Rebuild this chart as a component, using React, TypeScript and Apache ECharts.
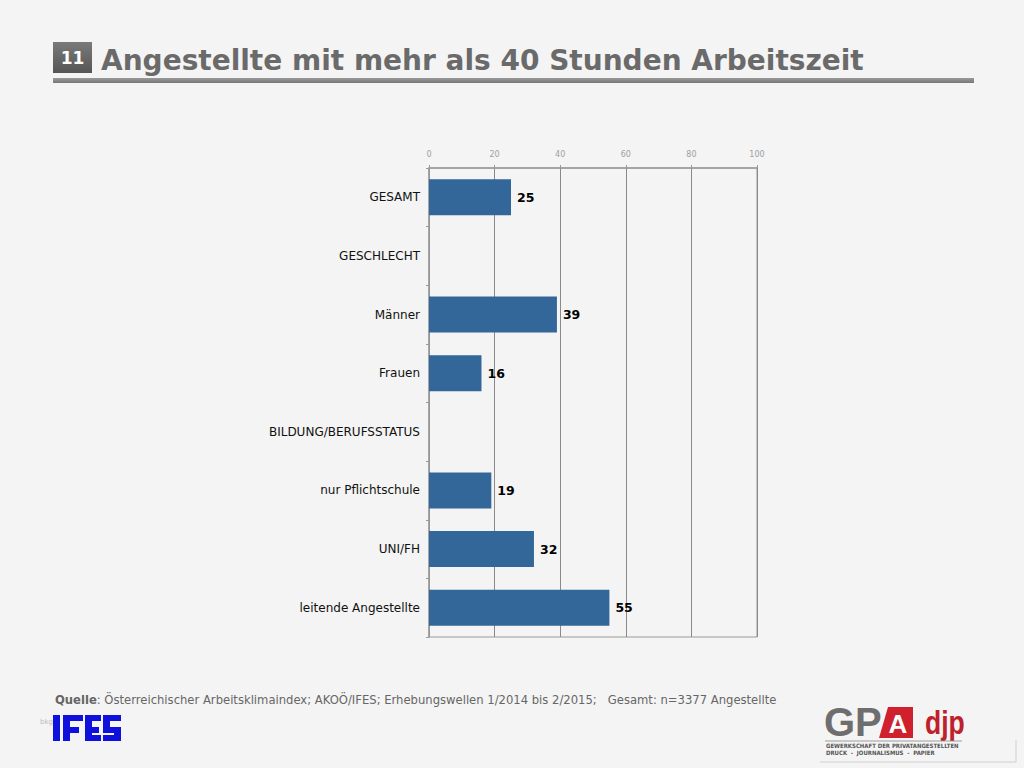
import React, { useEffect, useRef } from "react";
import * as echarts from "echarts";

const categories = [
  "GESAMT",
  "GESCHLECHT",
  "Männer",
  "Frauen",
  "BILDUNG/BERUFSSTATUS",
  "nur Pflichtschule",
  "UNI/FH",
  "leitende Angestellte",
];
const values: (number | null)[] = [25, null, 39, 16, null, 19, 32, 55];
const xTicks = [0, 20, 40, 60, 80, 100];

const titleText = "Angestellte mit mehr als 40 Stunden Arbeitszeit";
const slideNo = "11";
const sourceLabel = "Quelle";
const sourceText =
  ": Österreichischer Arbeitsklimaindex; AKOÖ/IFES; Erhebungswellen 1/2014 bis 2/2015;   Gesamt: n=3377 Angestellte";

const ifesBlocks: number[][] = [
  // I
  [53, 715, 7, 26],
  // F
  [63, 715, 7, 26],
  [63, 715, 20, 6],
  [63, 727, 16, 6],
  // E
  [85, 715, 7, 26],
  [85, 715, 16, 6],
  [85, 727, 14, 6],
  [85, 735, 16, 6],
  // S
  [103, 715, 18, 6],
  [103, 715, 7, 16],
  [103, 727, 18, 6],
  [114, 727, 7, 14],
  [103, 735, 18, 6],
];

export default function App() {
  const ref = useRef<HTMLDivElement>(null);
  useEffect(() => {
    if (!ref.current) return;
    const chart = echarts.init(ref.current, undefined, { renderer: "svg" });
    const font = "'DejaVu Sans', Verdana, sans-serif";
    chart.setOption({
      animation: false,
      backgroundColor: "#f4f4f4",
      textStyle: { fontFamily: font },
      grid: {
        left: 429,
        right: 267,
        top: 168,
        height: 469,
        show: true,
        borderColor: "#9a9a9a",
        borderWidth: 1,
        backgroundColor: "transparent",
      },
      xAxis: {
        type: "value",
        position: "top",
        min: xTicks[0],
        max: xTicks[xTicks.length - 1],
        interval: 20,
        axisLine: { show: true, lineStyle: { color: "#9a9a9a", width: 1.5 } },
        axisTick: { show: true, length: 3, lineStyle: { color: "#9a9a9a" } },
        axisLabel: { color: "#a0a0a0", fontSize: 8, margin: 10, fontFamily: font },
        splitLine: { show: true, lineStyle: { color: "#8a8a8a", width: 1 } },
      },
      yAxis: {
        type: "category",
        data: categories,
        inverse: true,
        axisLine: { show: true, lineStyle: { color: "#9a9a9a", width: 1.5 } },
        axisTick: { show: true, length: 3, inside: false, lineStyle: { color: "#9a9a9a" } },
        axisLabel: { color: "#111", fontSize: 12, margin: 9, fontFamily: font },
      },
      series: [
        {
          type: "bar",
          data: values,
          barWidth: 36,
          itemStyle: { color: "#336699" },
          label: {
            show: true,
            position: "right",
            distance: 6,
            color: "#000",
            fontWeight: "bold",
            fontSize: 12.5,
            fontFamily: font,
          },
        },
      ],
      graphic: [
        {
          type: "rect",
          shape: { x: 53, y: 42, width: 39, height: 31 },
          style: {
            fill: new echarts.graphic.LinearGradient(0, 0, 0, 1, [
              { offset: 0, color: "#7a7a7a" },
              { offset: 1, color: "#555555" },
            ]),
          },
        },
        {
          type: "text",
          x: 72.5,
          y: 58,
          style: {
            text: slideNo,
            fill: "#fff",
            font: "bold 17px 'DejaVu Sans', sans-serif",
            align: "center",
            verticalAlign: "middle",
          },
        },
        {
          type: "text",
          x: 101,
          y: 60,
          style: {
            text: titleText,
            fill: "#6a6a6a",
            font: "bold 28px 'DejaVu Sans', Verdana, sans-serif",
            verticalAlign: "middle",
          },
        },
        {
          type: "rect",
          shape: { x: 53, y: 78, width: 921, height: 5 },
          style: {
            fill: new echarts.graphic.LinearGradient(0, 0, 0, 1, [
              { offset: 0, color: "#9a9a9a" },
              { offset: 1, color: "#777777" },
            ]),
          },
        },
        {
          type: "text",
          x: 55,
          y: 700,
          style: {
            text: "{b|" + sourceLabel + "}{n|" + sourceText + "}",
            verticalAlign: "middle",
            rich: {
              b: { fontWeight: "bold", fontSize: 11.6, fill: "#666", fontFamily: font },
              n: { fontSize: 11.6, fill: "#666", fontFamily: font },
            },
          },
        },
        ...ifesBlocks.map((b) => ({
          type: "rect",
          shape: { x: b[0], y: b[1], width: b[2], height: b[3] },
          style: { fill: "#1010dd" },
        })),
        {
          type: "text",
          x: 40,
          y: 722,
          style: {
            text: "bkg",
            fill: "#bbbbbb",
            font: "7px 'DejaVu Sans', sans-serif",
            verticalAlign: "middle",
          },
        },
        {
          type: "text",
          x: 824,
          y: 722,
          style: {
            text: "GP",
            fill: "#6e6e6e",
            font: "bold 40px 'Liberation Sans', Arial, sans-serif",
            verticalAlign: "middle",
          },
        },
        {
          type: "polygon",
          shape: {
            points: [
              [888, 707],
              [913, 707],
              [913, 738],
              [879, 738],
            ],
          },
          style: { fill: "#d0202e" },
        },
        {
          type: "text",
          x: 898,
          y: 724,
          style: {
            text: "A",
            fill: "#ffffff",
            font: "bold 26px 'Liberation Sans', Arial, sans-serif",
            align: "center",
            verticalAlign: "middle",
          },
        },
        {
          type: "text",
          x: 925,
          y: 722,
          scaleX: 0.78,
          style: {
            text: "djp",
            fill: "#c0202a",
            font: "bold 34px 'Liberation Sans Narrow', 'Liberation Sans', sans-serif",
            verticalAlign: "middle",
          },
        },
        {
          type: "line",
          shape: { x1: 825, y1: 741, x2: 962, y2: 741 },
          style: { stroke: "#888", lineWidth: 0.8 },
        },
        {
          type: "text",
          x: 826,
          y: 746,
          scaleX: 0.9,
          style: {
            text: "GEWERKSCHAFT DER PRIVATANGESTELLTEN",
            fill: "#555",
            font: "bold 6px 'DejaVu Sans', sans-serif",
            verticalAlign: "middle",
          },
        },
        {
          type: "text",
          x: 826,
          y: 753,
          scaleX: 0.9,
          style: {
            text: "DRUCK  -  JOURNALISMUS  -  PAPIER",
            fill: "#555",
            font: "bold 6px 'DejaVu Sans', sans-serif",
            verticalAlign: "middle",
          },
        },
        {
          type: "line",
          shape: { x1: 1016, y1: 740, x2: 1016, y2: 762 },
          style: { stroke: "#cfcfcf", lineWidth: 1 },
        },
        {
          type: "line",
          shape: { x1: 820, y1: 762, x2: 1016, y2: 762 },
          style: { stroke: "#cfcfcf", lineWidth: 1 },
        },
      ],
    });
    return () => chart.dispose();
  }, []);
  return (
    <div
      ref={ref}
      style={{ position: "fixed", left: 0, top: 0, width: 1024, height: 768 }}
    />
  );
}
